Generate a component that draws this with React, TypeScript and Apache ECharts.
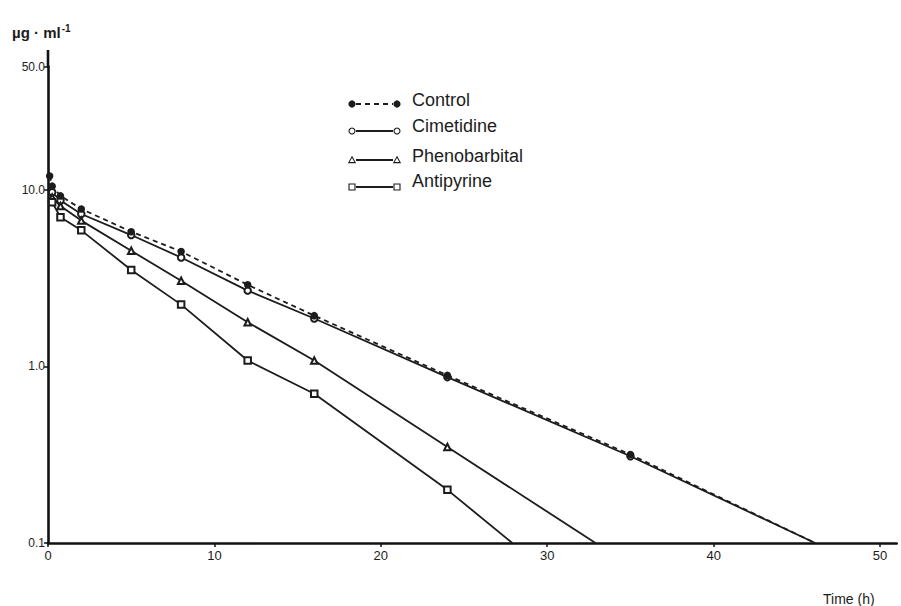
import React, { useEffect, useRef } from "react";
import * as echarts from "echarts";

// ---- data ----
const times = [0.1, 0.25, 0.75, 2, 5, 8, 12, 16, 24, 35];
const control = [12.0, 10.5, 9.25, 7.8, 5.8, 4.48, 2.9, 1.94, 0.89, 0.317];
const cimetidine = [null, 9.7, 8.7, 7.3, 5.55, 4.14, 2.69, 1.87, 0.87, 0.31];
const phenobarbital = [null, 9.05, 8.1, 6.7, 4.52, 3.06, 1.78, 1.08, 0.35, null];
const antipyrine = [null, 8.5, 7.0, 5.9, 3.52, 2.24, 1.08, 0.7, 0.2, null];
// extrapolated line ends at the lower limit (0.1 µg/ml)
const lineEnds = { control: 46.1, cimetidine: 46.1, phenobarbital: 32.9, antipyrine: 27.9 };
const seriesNames = ["Control", "Cimetidine", "Phenobarbital", "Antipyrine"];
const yTickValues = [0.1, 1, 10, 50];
const xTicks = [0, 10, 20, 30, 40, 50];

const FONT = "'Liberation Sans', Arial, Helvetica, sans-serif";
const INK = "#1c1c1c";

const GRID = { left: 48, right: 4.3, top: 66.5, bottom: 63 };

function buildData(vals: (number | null)[], end: number) {
  const d: any[] = [];
  vals.forEach((v, i) => {
    if (v != null) d.push([times[i], v]);
  });
  d.push({ value: [end, 0.1], symbol: "none" });
  return d;
}

export default function App() {
  const ref = useRef<HTMLDivElement>(null);
  useEffect(() => {
    if (!ref.current) return;
    const chart = echarts.init(ref.current, null, { renderer: "svg" });

    const legendRows = [
      { name: seriesNames[0], textY: 99.5, iconY: 104, symbol: "filled", dashed: true },
      { name: seriesNames[1], textY: 126, iconY: 131, symbol: "circle", dashed: false },
      { name: seriesNames[2], textY: 155.5, iconY: 160, symbol: "triangle", dashed: false },
      { name: seriesNames[3], textY: 181, iconY: 187, symbol: "square", dashed: false },
    ];
    const marker = (kind: string, cx: number, cy: number): any => {
      const stroke = { stroke: INK, lineWidth: 1.1, fill: "#fff" };
      if (kind === "filled") return { type: "circle", shape: { cx, cy, r: 3.6 }, style: { fill: INK } };
      if (kind === "circle") return { type: "circle", shape: { cx, cy, r: 3 }, style: stroke };
      if (kind === "triangle")
        return {
          type: "polygon",
          shape: { points: [[cx, cy - 3.2], [cx + 3.2, cy + 2.6], [cx - 3.2, cy + 2.6]] },
          style: stroke,
        };
      return { type: "rect", shape: { x: cx - 3, y: cy - 3, width: 6, height: 6 }, style: stroke };
    };
    const legendGraphics: any[] = [];
    legendRows.forEach((r) => {
      legendGraphics.push({
        type: "line",
        shape: { x1: 356, y1: r.iconY, x2: 393, y2: r.iconY },
        style: { stroke: INK, lineWidth: 1.8, lineDash: r.dashed ? [5, 4] : null },
      });
      legendGraphics.push(marker(r.symbol, 352, r.iconY));
      legendGraphics.push(marker(r.symbol, 397, r.iconY));
      legendGraphics.push({
        type: "text",
        x: 412,
        y: r.textY,
        style: {
          text: r.name,
          fontSize: 18,
          fontFamily: FONT,
          fill: INK,
          verticalAlign: "middle",
          align: "left",
        },
      });
    });
    // upward extension of the y axis line above the 50.0 tick
    legendGraphics.push({
      type: "line",
      shape: { x1: GRID.left, y1: 50, x2: GRID.left, y2: GRID.top + 1 },
      style: { stroke: "#111", lineWidth: 2.6 },
    });

    const lineStyle = (dashed: boolean) => ({
      color: INK,
      width: 1.8,
      type: dashed ? ([5, 4] as any) : "solid",
    });

    const option: any = {
      animation: false,
      backgroundColor: "#fff",
      textStyle: { fontFamily: FONT },
      title: [
        {
          text: "{a|µg · ml}{b|-1}",
          left: 7,
          top: 18,
          textStyle: {
            rich: {
              a: { fontSize: 15, fontFamily: FONT, color: INK, fontWeight: "bold" },
              b: { fontSize: 10, fontFamily: FONT, color: INK, padding: [0, 0, 9, 1], fontWeight: "bold" },
            },
          },
        },
        {
          text: "Time (h)",
          left: 818,
          top: 587,
          textStyle: { fontSize: 14, fontWeight: "normal", fontFamily: FONT, color: INK },
        },
      ],
      grid: { ...GRID, containLabel: false, outerBoundsMode: "none" },
      xAxis: {
        type: "value",
        min: 0,
        max: 51,
        interval: 10,
        axisLine: { show: true, lineStyle: { color: "#111", width: 2.6 } },
        axisTick: { show: true, length: 4, lineStyle: { color: "#111", width: 1.5 } },
        axisLabel: {
          fontSize: 13,
          color: INK,
          margin: 6,
          showMaxLabel: false,
          formatter: (v: number) => (xTicks.includes(Math.round(v)) && Math.abs(v - Math.round(v)) < 1e-6 ? String(Math.round(v)) : ""),
        },
        splitLine: { show: false },
      },
      yAxis: {
        type: "log",
        logBase: 10,
        min: yTickValues[0],
        max: yTickValues[yTickValues.length - 1],
        axisLine: { show: true, lineStyle: { color: "#111", width: 2.6 } },
        axisTick: { show: true, length: 4, lineStyle: { color: "#111", width: 1.5 } },
        axisLabel: {
          fontSize: 12,
          color: INK,
          margin: 3,
          formatter: (v: number) => {
            const r = Math.round(v * 10) / 10;
            return r < 1 ? String(r) : r.toFixed(1);
          },
        },
        splitLine: { show: false },
      },
      graphic: legendGraphics,
      series: [
        {
          name: seriesNames[1],
          type: "line",
          data: buildData(cimetidine, lineEnds.cimetidine),
          symbol: "emptyCircle",
          symbolSize: 6.5,
          itemStyle: { color: INK, borderWidth: 1.1 },
          lineStyle: lineStyle(false),
          z: 2,
        },
        {
          name: seriesNames[2],
          type: "line",
          data: buildData(phenobarbital, lineEnds.phenobarbital),
          symbol: "emptyTriangle",
          symbolSize: 6.5,
          itemStyle: { color: INK, borderWidth: 1.1 },
          lineStyle: lineStyle(false),
          z: 2,
        },
        {
          name: seriesNames[3],
          type: "line",
          data: buildData(antipyrine, lineEnds.antipyrine),
          symbol: "emptyRect",
          symbolSize: 6.5,
          itemStyle: { color: INK, borderWidth: 1.1 },
          lineStyle: lineStyle(false),
          z: 2,
        },
        {
          name: seriesNames[0],
          type: "line",
          data: buildData(control, lineEnds.control),
          symbol: "circle",
          symbolSize: 7.5,
          itemStyle: { color: INK },
          lineStyle: lineStyle(true),
          z: 3,
        },
      ],
    };
    chart.setOption(option);
    return () => chart.dispose();
  }, []);
  return (
    <div
      ref={ref}
      style={{ position: "absolute", left: 0, top: 0, width: 901, height: 606 }}
    />
  );
}
